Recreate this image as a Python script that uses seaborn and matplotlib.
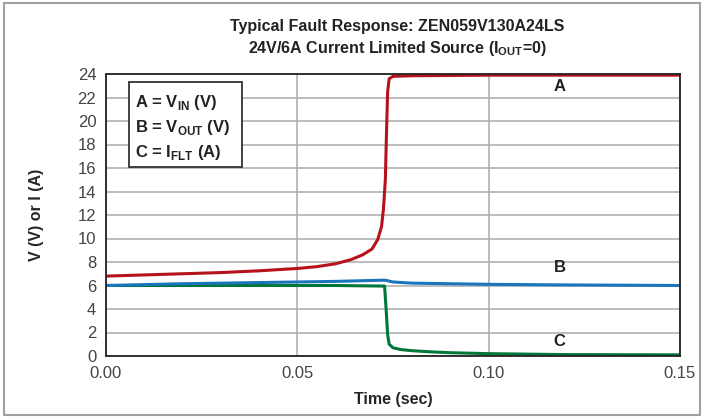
import matplotlib
matplotlib.use("Agg")
import matplotlib.pyplot as plt
import seaborn as sns
import pandas as pd
from matplotlib.patches import Rectangle

# curve A : V_IN
t_a = [0, 0.01, 0.02, 0.03, 0.04, 0.05, 0.055, 0.06, 0.064, 0.067, 0.0695,
       0.071, 0.072, 0.0725, 0.073, 0.0733, 0.0736, 0.074, 0.075, 0.08, 0.1, 0.15]
v_a = [6.8, 6.9, 7.0, 7.1, 7.25, 7.45, 7.6, 7.85, 8.2, 8.6, 9.1,
       9.9, 11.0, 12.5, 15.0, 19.0, 22.5, 23.6, 23.8, 23.85, 23.9, 23.9]

# curve B : V_OUT
t_b = [0, 0.02, 0.04, 0.06, 0.072, 0.073, 0.075, 0.08, 0.09, 0.1, 0.12, 0.15]
v_b = [6.0, 6.15, 6.25, 6.35, 6.45, 6.45, 6.3, 6.2, 6.15, 6.1, 6.05, 6.0]

# curve C : I_FLT
t_c = [0, 0.02, 0.04, 0.06, 0.0728, 0.0732, 0.0736, 0.074, 0.075, 0.077,
       0.08, 0.085, 0.09, 0.1, 0.12, 0.15]
v_c = [6.0, 6.0, 6.0, 6.0, 5.95, 4.0, 1.8, 1.0, 0.7, 0.55,
       0.45, 0.35, 0.28, 0.2, 0.12, 0.1]

x_ticks = [0.0, 0.05, 0.10, 0.15]
x_tick_labels = ["0.00", "0.05", "0.10", "0.15"]
y_ticks = list(range(0, 25, 2))

sns.set_style("white")
plt.rcParams["font.family"] = ["Liberation Sans Narrow", "Liberation Sans", "DejaVu Sans"]
plt.rcParams["mathtext.fontset"] = "custom"
plt.rcParams["mathtext.rm"] = "Liberation Sans"
plt.rcParams["mathtext.bf"] = "Liberation Sans:bold"

fig = plt.figure(figsize=(7.05, 4.17), dpi=100)
ax = fig.add_axes([106 / 705, 1 - 356 / 417, 574 / 705, 282 / 417])

colors = {"A": "#b5121b", "B": "#1a75bb", "C": "#00773a"}
for name, t, v in [("C", t_c, v_c), ("B", t_b, v_b), ("A", t_a, v_a)]:
    df = pd.DataFrame({"t": t, "v": v})
    sns.lineplot(data=df, x="t", y="v", ax=ax, color=colors[name], linewidth=2.2)

ax.set_xlim(0, 0.15)
ax.set_ylim(0, 24)
ax.set_xticks(x_ticks)
ax.set_xticklabels(x_tick_labels)
ax.set_yticks(y_ticks)
ax.grid(True, color="#b0b0b0", linewidth=1.2)
ax.set_axisbelow(True)
for s in ax.spines.values():
    s.set_color("#222222")
    s.set_linewidth(1.3)
ax.tick_params(axis="both", direction="out", length=5, color="#999999",
               labelsize=12, labelcolor="#444444", pad=2)

ax.set_xlabel("Time (sec)", fontsize=11.5, fontweight="bold", labelpad=8)
ax.set_ylabel("V (V) or I (A)", fontsize=11.5, fontweight="bold", labelpad=24)

fig.text(0.563, 1 - 27 / 417, "Typical Fault Response: ZEN059V130A24LS",
         ha="center", va="center", fontsize=11.5, fontweight="bold", color="#222222")
fig.text(0.563, 1 - 49 / 417, r"24V/6A Current Limited Source (I$_{\mathbf{OUT}}$=0)",
         ha="center", va="center", fontsize=11.5, fontweight="bold", color="#222222")

# legend box
ax.add_patch(Rectangle((0.006, 16.1), 0.0295, 7.2, facecolor="white",
                       edgecolor="#333333", linewidth=1.3, zorder=5))
legend_lines = [r"A = V$_{\mathbf{IN}}$ (V)", r"B = V$_{\mathbf{OUT}}$ (V)",
                r"C = I$_{\mathbf{FLT}}$ (A)"]
for i, txt in enumerate(legend_lines):
    ax.text(0.0075, 21.6 - i * 2.15, txt, fontsize=12, fontweight="bold",
            va="center", ha="left", color="#222222", zorder=6)

for name, y in [("A", 22.9), ("B", 7.5), ("C", 1.2)]:
    ax.text(0.1185, y, name, fontsize=12, fontweight="bold", ha="center",
            va="center", color="#222222")

fig.patches.append(Rectangle((4 / 705, 2 / 417), 696 / 705, 412 / 417,
                             transform=fig.transFigure, fill=False,
                             edgecolor="#a0a0a0", linewidth=1.5))

fig.savefig("out.png", dpi=100)
